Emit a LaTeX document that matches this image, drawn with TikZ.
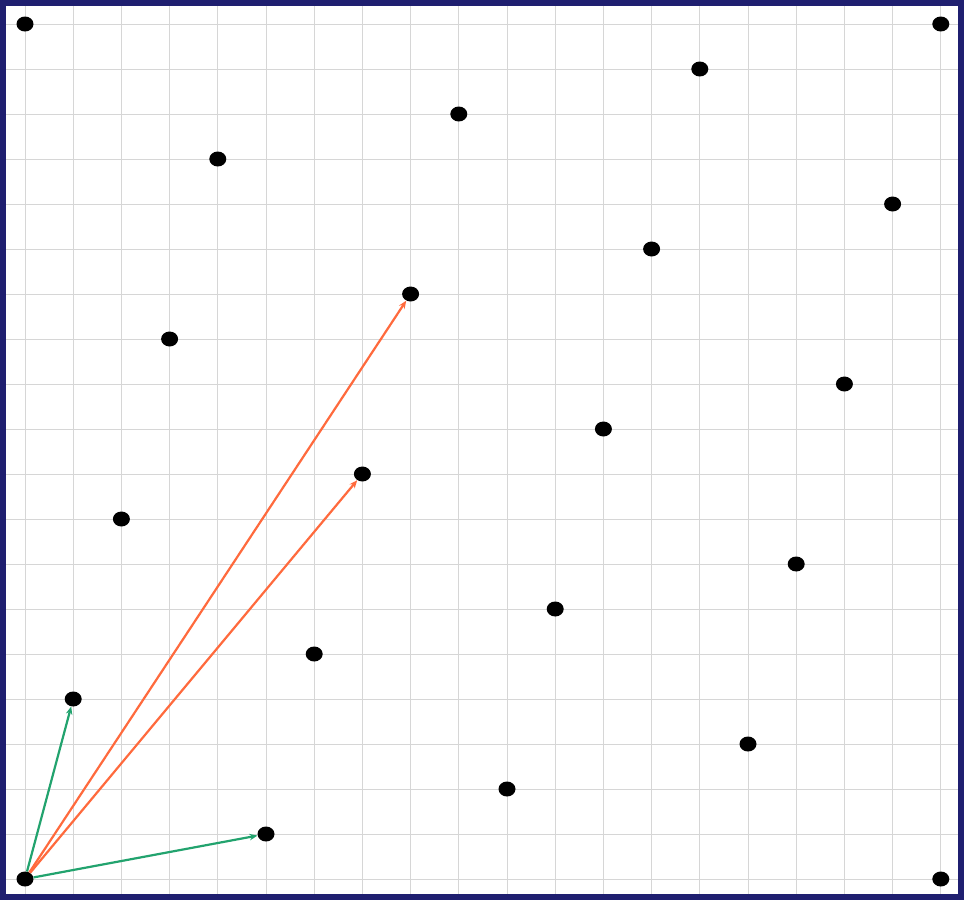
\documentclass[tikz,border=0pt]{standalone}
\usetikzlibrary{arrows.meta,shapes.geometric}
\definecolor{framecol}{HTML}{1F1F70}
\definecolor{gridcol}{HTML}{D6D6D6}
\definecolor{greenvec}{HTML}{22A36E}
\definecolor{orangevec}{HTML}{FF6A3D}
\begin{document}
\begin{tikzpicture}[x=1pt,y=-1pt,
  dot/.style={ellipse,fill=black,inner sep=0pt,minimum width=17pt,minimum height=15pt},
  gridline/.style={gridcol,line width=1pt},
  vec/.style={line width=2.2pt,-{Stealth[length=8pt,width=6.5pt]}}]
\useasboundingbox (0,0) rectangle (964,900);
\fill[white] (0,0) rectangle (964,900);
\foreach \k in {0,...,19} {
  \draw[gridline] ({25+48.2*\k},5) -- ({25+48.2*\k},895);
  \draw[gridline] (5,{879-45*\k}) -- (959,{879-45*\k});
}
\draw[framecol,line width=6pt] (3,3) rectangle (961,897);
\foreach \i/\j in {0/0,19/0,0/19,19/19,14/18,9/17,4/16,18/15,13/14,8/13,3/12,17/11,12/10,7/9,2/8,16/7,11/6,6/5,1/4,15/3,10/2,5/1} {
  \node[dot] (p\i-\j) at ({25+48.2*\i},{879-45*\j}) {};
}
\draw[vec,orangevec] (p0-0) -- (p8-13);
\draw[vec,orangevec] (p0-0) -- (p7-9);
\draw[vec,greenvec] (p0-0) -- (p1-4);
\draw[vec,greenvec] (p0-0) -- (p5-1);
\end{tikzpicture}
\end{document}
